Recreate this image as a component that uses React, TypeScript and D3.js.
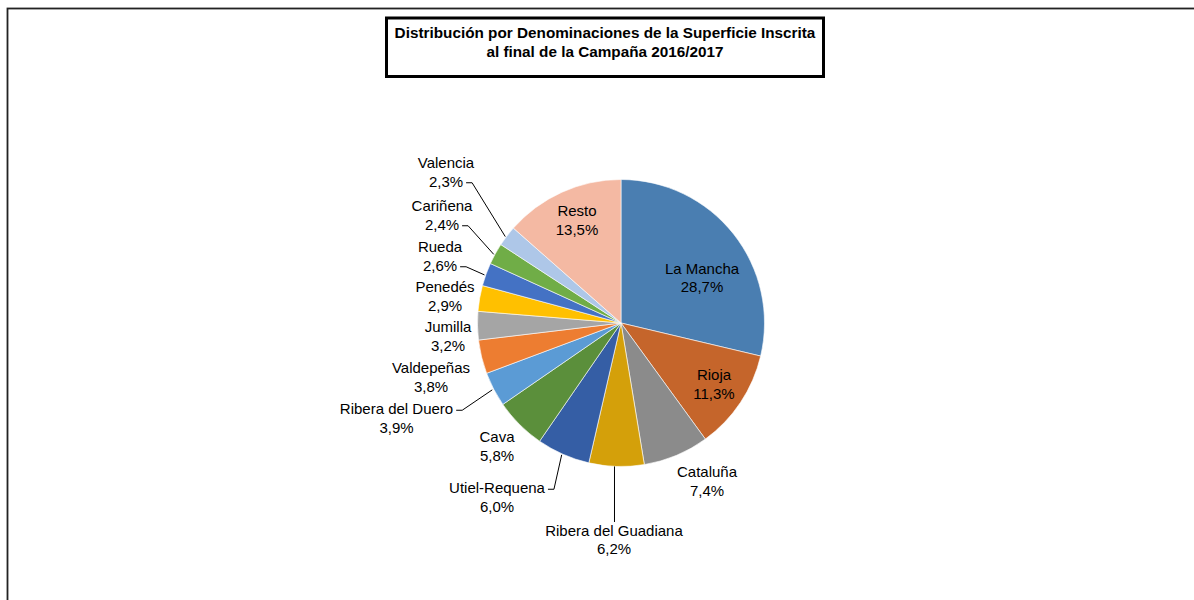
import React from "react";
import * as d3 from "d3";

const categories = [
  "La Mancha",
  "Rioja",
  "Cataluña",
  "Ribera del Guadiana",
  "Utiel-Requena",
  "Cava",
  "Ribera del Duero",
  "Valdepeñas",
  "Jumilla",
  "Penedés",
  "Rueda",
  "Cariñena",
  "Valencia",
  "Resto",
];
const shares = [28.7, 11.3, 7.4, 6.2, 6.0, 5.8, 3.9, 3.8, 3.2, 2.9, 2.6, 2.4, 2.3, 13.5];
const sliceColors = [
  "#4a7eb1",
  "#c5652b",
  "#8b8b8b",
  "#d4a00a",
  "#355ea5",
  "#5b8f3b",
  "#5b9bd5",
  "#ed7d31",
  "#a5a5a5",
  "#ffc000",
  "#4472c4",
  "#70ad47",
  "#aec7e8",
  "#f4b9a3",
];
const titleLines = [
  "Distribución por Denominaciones de la Superficie Inscrita",
  "al final de la Campaña 2016/2017",
];

const W = 1194;
const H = 600;
const CX = 621;
const CY = 323;
const R = 143.5;
const FONT = "'Liberation Sans', Arial, sans-serif";
const FS = 15;
const LH = 18.5;

// label block centre relative to pie centre, and leader style
type Lay = { dx: number; dy: number; leader?: "top" | "right"; line?: number };
const labelLayout: Lay[] = [
  { dx: 81, dy: -45.5 },
  { dx: 93, dy: 61 },
  { dx: 86, dy: 158 },
  { dx: -7, dy: 216.5, leader: "top" },
  { dx: -124, dy: 174, leader: "right", line: 0 },
  { dx: -124, dy: 123 },
  { dx: -224.5, dy: 95, leader: "right", line: 0 },
  { dx: -190, dy: 54 },
  { dx: -173, dy: 13 },
  { dx: -176, dy: -27 },
  { dx: -181, dy: -67, leader: "right", line: 1 },
  { dx: -179, dy: -108, leader: "right", line: 1 },
  { dx: -175, dy: -151, leader: "right", line: 1 },
  { dx: -44, dy: -103 },
];

let ctx: CanvasRenderingContext2D | null = null;
const measure = (s: string) => {
  if (!ctx) ctx = document.createElement("canvas").getContext("2d");
  if (!ctx) return s.length * FS * 0.5;
  ctx.font = `${FS}px ${FONT}`;
  return ctx.measureText(s).width;
};

const fmt = (v: number) => v.toFixed(1).replace(".", ",") + "%";

export default function App() {
  const data = categories.map((name, i) => ({ name, value: shares[i], i }));
  const pie = d3
    .pie<{ name: string; value: number; i: number }>()
    .sort(null)
    .value(d => d.value);
  const arcs = pie(data);
  const arc = d3
    .arc<d3.PieArcDatum<{ name: string; value: number; i: number }>>()
    .innerRadius(0)
    .outerRadius(R);
  const line = d3.line();

  return (
    <svg
      width={W}
      height={H}
      style={{ position: "absolute", left: 0, top: 0, background: "#fff" }}
      fontFamily={FONT}
    >
      <rect x={7.5} y={8.5} width={W + 20} height={H + 20} fill="none" stroke="#222" strokeWidth={1.8} />

      <rect x={386.5} y={18} width={437} height={58.5} fill="#fff" stroke="#000" strokeWidth={3} />
      {titleLines.map((t, k) => (
        <text
          key={k}
          x={605}
          y={33 + k * 19}
          dy="0.35em"
          textAnchor="middle"
          fontWeight="bold"
          fontSize={15.3}
          fill="#000"
        >
          {t}
        </text>
      ))}

      <g transform={`translate(${CX},${CY})`}>
        {arcs.map(a => (
          <path key={a.data.name} d={arc(a) || ""} fill={sliceColors[a.data.i]} stroke="#fff" strokeWidth={0.6} />
        ))}
        {arcs.map(a => {
          const lay = labelLayout[a.data.i];
          if (!lay.leader) return null;
          const mid = (a.startAngle + a.endAngle) / 2;
          const px = R * Math.sin(mid);
          const py = -R * Math.cos(mid);
          let pts: [number, number][];
          if (lay.leader === "top") {
            const top = lay.dy - LH / 2 - FS * 0.55;
            pts = [
              [px - 2, py],
              [px - 2, top],
            ];
          } else {
            const k = lay.line || 0;
            const txt = k === 0 ? a.data.name : fmt(a.data.value);
            const ay = lay.dy + (k === 0 ? -LH / 2 : LH / 2) + 1.5;
            const ax = lay.dx + measure(txt) / 2 + 3;
            pts = [
              [px - 1.5, py + 0.5],
              [ax + 6, ay],
              [ax, ay],
            ];
          }
          return <path key={"l" + a.data.name} d={line(pts) || ""} fill="none" stroke="#000" strokeWidth={1} />;
        })}
        {arcs.map(a => {
          const lay = labelLayout[a.data.i];
          return (
            <text key={"t" + a.data.name} textAnchor="middle" fontSize={FS} fill="#000">
              <tspan x={lay.dx} y={lay.dy - LH / 2} dy="0.35em">
                {a.data.name}
              </tspan>
              <tspan x={lay.dx} y={lay.dy + LH / 2} dy="0.35em">
                {fmt(a.data.value)}
              </tspan>
            </text>
          );
        })}
      </g>
    </svg>
  );
}
